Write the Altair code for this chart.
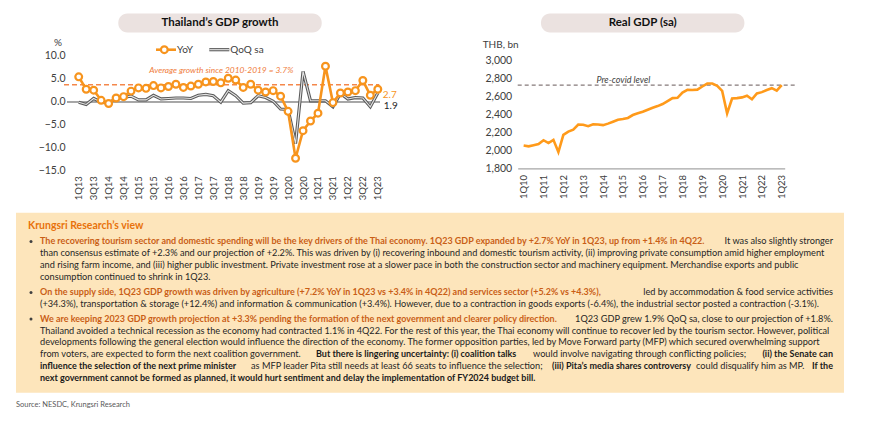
import json
import altair as alt
import pandas as pd

# ---------------- data ----------------
q_left = [f"{q}Q{y}" for y in range(13, 24) for q in range(1, 5)][:41]
yoy = [5.4, 2.7, 2.5, 0.3, -0.4, 0.8, 1.1, 2.3, 3.0, 2.9, 3.5, 3.0, 3.3, 3.8, 3.1, 3.4,
       3.8, 4.3, 4.4, 4.1, 5.1, 4.7, 3.1, 3.8, 2.5, 2.1, 2.4, 1.2, -2.1, -12.3, -6.3, -4.2,
       -2.5, 7.7, -0.2, 1.9, 2.1, 2.4, 4.6, 1.4, 2.7]
qoq = [-0.1, -0.6, 0.7, -0.1, -0.3, 0.7, 1.0, 1.2, 0.4, 0.4, 1.4, 0.6, 0.7, 0.8, 0.8, 0.7,
       1.4, 1.6, 1.3, -0.1, 2.4, 1.3, -0.3, -0.2, 1.3, 0.9, 0.1, -1.6, -1.7, -9.1, 6.6, 0.2,
       0.2, 0.2, -1.1, 1.8, 0.6, 0.9, 0.8, -1.1, 1.9]
avg_growth = 3.7

q_right = [f"{q}Q{y:02d}" for y in range(10, 24) for q in range(1, 5)][:53]
real_gdp = [2056, 2046, 2059, 2072, 2115, 2083, 2119, 1983, 2174, 2211, 2233, 2289,
            2287, 2272, 2293, 2290, 2283, 2300, 2322, 2344, 2352, 2364, 2396, 2415,
            2433, 2456, 2478, 2496, 2519, 2552, 2585, 2589, 2648, 2678, 2675, 2680,
            2715, 2748, 2748, 2722, 2665, 2415, 2581, 2585, 2593, 2611, 2572, 2637,
            2652, 2676, 2696, 2668, 2730]
pre_covid = 2730

left_ticks = [-15, -10, -5, 0, 5, 10]
right_ticks = [1800, 2000, 2200, 2400, 2600, 2800, 3000]

left_title = "Thailand\u2019s GDP growth"
right_title = "Real GDP (sa)"
avg_label = "Average growth since 2010-2019 = 3.7%"

box_title = "Krungsri Research\u2019s view"
source_text = "Source: NESDC, Krungsri Research"
# (kind, page_x, page_y, text, align)   kind: bo = bold orange, b = bold dark, r = regular
segments = [
    ("bo", 39, 240.7, "The recovering tourism sector and domestic spending will be the key drivers of the Thai economy. 1Q23 GDP expanded by +2.7% YoY in 1Q23, up from +1.4% in 4Q22.", "left"),
    ("r", 832, 240.7, "It was also slightly stronger", "right"),
    ("r", 39, 252.4, "than consensus estimate of +2.3% and our projection of +2.2%. This was driven by (i) recovering inbound and domestic tourism activity, (ii) improving private consumption amid higher employment", "left"),
    ("r", 39, 264.6, "and rising farm income, and (iii) higher public investment. Private investment rose at a slower pace in both the construction sector and machinery equipment. Merchandise exports and public", "left"),
    ("r", 39, 276.5, "consumption continued to shrink in 1Q23.", "left"),
    ("bo", 39, 291.7, "On the supply side, 1Q23 GDP growth was driven by agriculture (+7.2% YoY in 1Q23 vs +3.4% in 4Q22) and services sector (+5.2% vs +4.3%),", "left"),
    ("r", 832, 291.7, "led by accommodation & food service activities", "right"),
    ("r", 39, 303.3, "(+34.3%), transportation & storage (+12.4%) and information & communication (+3.4%). However, due to a contraction in goods exports (-6.4%), the industrial sector posted a contraction (-3.1%).", "left"),
    ("bo", 39, 318.3, "We are keeping 2023 GDP growth projection at +3.3% pending the formation of the next government and clearer policy direction.", "left"),
    ("r", 832, 318.3, "1Q23 GDP grew 1.9% QoQ sa, close to our projection of +1.8%.", "right"),
    ("r", 39, 330.0, "Thailand avoided a technical recession as the economy had contracted 1.1% in 4Q22. For the rest of this year, the Thai economy will continue to recover led by the tourism sector. However, political", "left"),
    ("r", 39, 341.7, "developments following the general election would influence the direction of the economy. The former opposition parties, led by Move Forward party (MFP) which secured overwhelming support", "left"),
    ("r", 39, 353.7, "from voters, are expected to form the next coalition government.", "left"),
    ("b", 315, 353.7, "But there is lingering uncertainty: (i) coalition talks", "left"),
    ("r", 532, 353.7, "would involve navigating through conflicting policies;", "left"),
    ("b", 832, 353.7, "(ii) the Senate can", "right"),
    ("b", 39, 365.6, "influence the selection of the next prime minister", "left"),
    ("r", 250, 365.6, "as MFP leader Pita still needs at least 66 seats to influence the selection;", "left"),
    ("b", 551, 365.6, "(iii) Pita\u2019s media shares controversy", "left"),
    ("r", 695, 365.6, "could disqualify him as MP.", "left"),
    ("b", 832, 365.6, "If the", "right"),
    ("b", 39, 377.2, "next government cannot be formed as planned, it would hurt sentiment and delay the implementation of FY2024 budget bill.", "left"),
]
bullet_rows = [240.7, 291.7, 318.3]

# ---------------- styles ----------------
FONT = "Lato"
ORANGE = "#f7941d"
AXC = "#404040"
PILL = "#ebe2e0"
REG_SIZE = 9.2
BOLD_SIZE = 9.0
OX, OY = 66, 55   # page position of the left plot's top-left corner

one = pd.DataFrame({"t": [""]})

def txt(s):
    return pd.DataFrame({"t": [s]})

# ---------------- left chart ----------------
W1, H1 = 312.3, 115
df_l = pd.DataFrame({"i": list(range(41)), "q": q_left, "yoy": yoy, "qoq": qoq})
ysc_l = alt.Scale(domain=[-15, 10], nice=False, zero=False)
yax_l = alt.Axis(values=left_ticks, format=".1f", domain=False, ticks=False,
                 grid=False, labelPadding=2, labelFontSize=10.5, labelColor=AXC, title=None,
                 labelFlush=False, labelOverlap=False, labelAngle=0)
xL = alt.X("i:Q", scale=alt.Scale(domain=[-1.565, 40.2], nice=False, zero=False),
           axis=alt.Axis(values=list(range(0, 41, 2)), labelExpr=json.dumps(q_left) + "[datum.value]",
                         labelAngle=270, domain=False, ticks=False, grid=False, labelPadding=5,
                         labelFontSize=9.5, labelColor=AXC, title=None, labelFlush=False,
                         labelOverlap=False))
yL = alt.Y("yoy:Q", scale=ysc_l, axis=yax_l)
yQ = alt.Y("qoq:Q", scale=ysc_l, axis=yax_l)

# text box behind everything (positioned relative to the left plot)
box_layers = [alt.Chart(one).mark_rect(color="#fde5bb").encode(
    x=alt.value(15 - OX), x2=alt.value(843 - OX), y=alt.value(212 - OY), y2=alt.value(392 - OY))]

base_l = alt.Chart(df_l)
y_line = base_l.mark_line(color=ORANGE, strokeWidth=2.6).encode(x=xL, y=yL)
zero_l = base_l.mark_rule(color="#a6a6a6", strokeWidth=1.2).encode(
    x=alt.value(0), x2=alt.value(W1), y=alt.YDatum(0, type="quantitative", scale=ysc_l, axis=yax_l))
avg_l = alt.Chart(one).mark_rule(color="#f4874b", strokeDash=[5, 3], strokeWidth=1.5).encode(
    x=alt.value(-3), x2=alt.value(W1),
    y=alt.YDatum(avg_growth, type="quantitative", scale=ysc_l, axis=yax_l))
q_out = base_l.mark_line(color="#5a5a5a", strokeWidth=3.2).encode(x=xL, y=yQ)
q_in = base_l.mark_line(color="#e4e4e4", strokeWidth=1.1).encode(x=xL, y=yQ)
y_pts = base_l.mark_point(shape="circle", filled=True, fill="white", stroke=ORANGE,
                          strokeWidth=2.2, size=46, opacity=1).encode(x=xL, y=yL)
end_df = df_l.tail(1)
lab_yoy = alt.Chart(end_df).mark_text(align="left", dx=5, dy=6.0, color=ORANGE, fontSize=10).encode(
    x=xL, y=yL, text=alt.Text("yoy:Q", format=".1f"))
lab_qoq = alt.Chart(end_df).mark_text(align="left", dx=6, dy=13.2, color="#262626", fontSize=10).encode(
    x=xL, y=yQ, text=alt.Text("qoq:Q", format=".1f"))
avg_txt = alt.Chart(txt(avg_label)).mark_text(fontStyle="italic", color="#f07d3c", fontSize=8.4,
                                              align="left").encode(
    x=alt.value(82.3), y=alt.value(14.7), text="t:N")
pill_l = alt.Chart(one).mark_rect(cornerRadius=9, color=PILL).encode(
    x=alt.value(51.3), x2=alt.value(254.7), y=alt.value(-42.3), y2=alt.value(-23.3))
title_l = alt.Chart(txt(left_title)).mark_text(fontWeight="bold", fontSize=11.5, color="#111").encode(
    x=alt.value(153), y=alt.value(-32.8), text="t:N")
pct = alt.Chart(txt("%")).mark_text(fontSize=10, color=AXC).encode(
    x=alt.value(-9), y=alt.value(-12.7), text="t:N")
leg1 = alt.Chart(one).mark_rule(color=ORANGE, strokeWidth=2.6).encode(
    x=alt.value(89), x2=alt.value(109), y=alt.value(-6))
leg1p = alt.Chart(one).mark_point(shape="circle", filled=True, fill="white", stroke=ORANGE,
                                  strokeWidth=2.2, size=46, opacity=1).encode(
    x=alt.value(97.3), y=alt.value(-6))
leg1t = alt.Chart(txt("YoY")).mark_text(align="left", fontSize=10, color=AXC).encode(
    x=alt.value(110), y=alt.value(-6), text="t:N")
leg2o = alt.Chart(one).mark_rule(color="#5a5a5a", strokeWidth=3.2).encode(
    x=alt.value(142.3), x2=alt.value(162.3), y=alt.value(-6))
leg2i = alt.Chart(one).mark_rule(color="#e4e4e4", strokeWidth=1.1).encode(
    x=alt.value(142.3), x2=alt.value(162.3), y=alt.value(-6))
leg2t = alt.Chart(txt("QoQ sa")).mark_text(align="left", fontSize=10, color=AXC).encode(
    x=alt.value(163.3), y=alt.value(-6), text="t:N")

# text box contents
styles = {"bo": ("bold", "#c95e16", BOLD_SIZE), "b": ("bold", "#1a1a1a", BOLD_SIZE),
          "r": ("normal", "#262626", REG_SIZE)}
text_layers = []
for kind, x, y, s, al in segments:
    weight, col, fs = styles[kind]
    text_layers.append(alt.Chart(txt(s)).mark_text(
        align=al, baseline="middle", fontSize=fs, fontWeight=weight, color=col).encode(
        x=alt.value(x - OX), y=alt.value(y - OY), text="t:N"))
for by in bullet_rows:
    text_layers.append(alt.Chart(one).mark_circle(size=9, color="#404040", opacity=1).encode(
        x=alt.value(30 - OX), y=alt.value(by - OY)))
text_layers.append(alt.Chart(txt(box_title)).mark_text(
    align="left", baseline="middle", fontSize=10.5, fontWeight="bold", color="#e8720c").encode(
    x=alt.value(27 - OX), y=alt.value(225.7 - OY), text="t:N"))
text_layers.append(alt.Chart(txt(source_text)).mark_text(
    align="left", baseline="middle", fontSize=7.5, color="#595959").encode(
    x=alt.value(15 - OX), y=alt.value(404.3 - OY), text="t:N"))

left = alt.layer(*box_layers, zero_l, avg_l, q_out, q_in, y_line, y_pts, lab_yoy, lab_qoq, avg_txt,
                 pill_l, title_l, pct, leg1, leg1p, leg1t, leg2o, leg2i, leg2t,
                 *text_layers).properties(width=W1, height=H1)

# ---------------- right chart ----------------
W2, H2 = 267, 112.7
df_r = pd.DataFrame({"i": list(range(53)), "q": q_right, "gdp": real_gdp})
ysc_r = alt.Scale(domain=[1800, 3059], nice=False, zero=False)
yax_r = alt.Axis(values=right_ticks, format=",d", domain=False,
                 ticks=False, grid=False, labelPadding=6, labelFontSize=10.5, labelColor=AXC,
                 title=None, labelFlush=False, labelOverlap=False, labelAngle=0)
xR = alt.X("i:Q", scale=alt.Scale(domain=[-1.2, 52.6], nice=False, zero=False),
           axis=alt.Axis(values=list(range(0, 53, 4)), labelExpr=json.dumps(q_right) + "[datum.value]",
                         labelAngle=270, domain=True, domainColor="#a6a6a6", domainWidth=1.2,
                         ticks=False, grid=False, labelPadding=6, labelFontSize=9.5,
                         labelColor=AXC, title=None, labelFlush=False, labelOverlap=False))
gdp_line = alt.Chart(df_r).mark_line(color="#ff9a1a", strokeWidth=2.6).encode(
    x=xR, y=alt.Y("gdp:Q", scale=ysc_r, axis=yax_r))
pc_rule = alt.Chart(one).mark_rule(color="#857a7a", strokeDash=[4, 3], strokeWidth=1.1).encode(
    x=alt.value(0), x2=alt.value(277),
    y=alt.YDatum(pre_covid, type="quantitative", scale=ysc_r, axis=yax_r))
pc_txt = alt.Chart(txt("Pre-covid level")).mark_text(fontStyle="italic", fontSize=9, color=AXC).encode(
    x=alt.value(105.7), y=alt.value(24), text="t:N")
pill_r = alt.Chart(one).mark_rect(cornerRadius=9, color=PILL).encode(
    x=alt.value(23.3), x2=alt.value(226.7), y=alt.value(-42.3), y2=alt.value(-23.3))
title_r = alt.Chart(txt(right_title)).mark_text(fontWeight="bold", fontSize=11.5, color="#111").encode(
    x=alt.value(125), y=alt.value(-32.8), text="t:N")
thb = alt.Chart(txt("THB, bn")).mark_text(fontSize=10, color=AXC).encode(
    x=alt.value(-17), y=alt.value(-11), text="t:N")

right = alt.layer(pc_rule, gdp_line, pc_txt, pill_r, title_r, thb).properties(width=W2, height=H2)

chart = alt.hconcat(left, right, spacing=516 - OX - W1, bounds="flush").properties(
    padding={"left": 7, "top": 4.7, "right": 0, "bottom": 0},
    background="white",
).configure(font=FONT).configure_view(stroke="transparent").configure_axisY(
    labelOverlap=False, labelAngle=0)

chart.save("out.html", embed_options={"renderer": "svg", "actions": False})
